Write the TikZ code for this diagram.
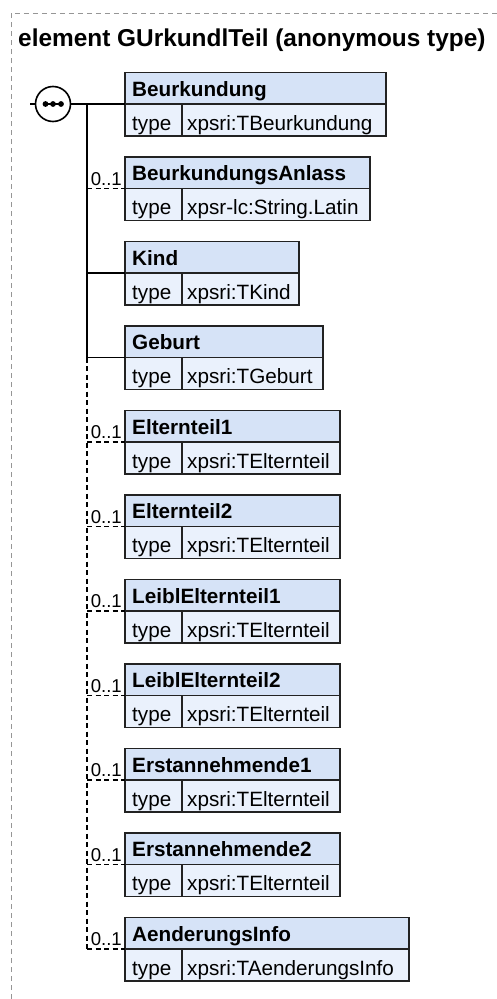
\documentclass[tikz,border=0pt]{standalone}
\usepackage{fontspec}
\setmainfont{Liberation Sans}
\definecolor{hdrfill}{RGB}{214,227,247}
\definecolor{cellfill}{RGB}{234,241,252}
\definecolor{boxline}{RGB}{34,34,34}
\definecolor{framegray}{RGB}{150,150,150}
\tikzset{
 hdr/.style={draw=boxline, fill=hdrfill, line width=1.5pt, minimum height=31.5pt, anchor=south west, inner sep=0pt, outer sep=0pt},
 cell/.style={draw=boxline, fill=cellfill, line width=1.5pt, minimum height=32pt, anchor=north west, inner sep=0pt, outer sep=0pt},
 hdrtxt/.style={anchor=base west, font=\bfseries\fontsize{20.7}{24}\selectfont, inner sep=0pt},
 celltxt/.style={anchor=base west, font=\fontsize{20.7}{24}\selectfont, inner sep=0pt},
 cardtxt/.style={anchor=base east, font=\fontsize{18.6}{22}\selectfont, inner sep=0pt},
 req/.style={line width=1.6pt, draw=black},
 optl/.style={line width=1.6pt, draw=black, dash pattern=on 5pt off 3.5pt},
 framel/.style={line width=0.9pt, draw=framegray, dash pattern=on 5pt off 4pt},
}
% id, y, header width, name, type, value width
\newcommand\mkelem[6]{%
  \node[hdr, minimum width=#3pt] (h#1) at (125,#2) {};
  \node[hdrtxt] (n#1) at ([xshift=7pt,yshift=8pt]h#1.south west) {#4};
  \node[cell, minimum width=57pt] (k#1) at (h#1.south west) {};
  \node[cell, minimum width=#6pt] (v#1) at (k#1.north east) {};
  \node[celltxt] (kt#1) at ([xshift=7pt,yshift=-26pt]h#1.south west) {type};
  \node[celltxt] (vt#1) at ([xshift=5pt,yshift=-26pt]k#1.north east) {#5};
  \coordinate (t#1) at (87,#2);
}
\newcommand\mkcard[1]{%
  \node[cardtxt] (c#1) at ([xshift=-3pt,yshift=3.5pt]h#1.south west) {0..1};
}
\begin{document}
\begin{tikzpicture}[x=1pt,y=-1pt]
\useasboundingbox (0,0) rectangle (497,999);
% frame
\coordinate (fa) at (11,999);
\coordinate (fb) at (11,13);
\coordinate (fc) at (497,13);
\draw[framel] (fa) -- (fb) -- (fc);
% title
\node[anchor=base west, font=\bfseries\fontsize{24.4}{28}\selectfont, inner sep=0pt] (title) at (18,46) {element GUrkundlTeil (anonymous type)};
% elements
\mkelem{0}{104}{261}{Beurkundung}{xpsri:TBeurkundung}{204}
\mkelem{1}{188.5}{245}{BeurkundungsAnlass}{xpsr-lc:String.Latin}{188}
\mkelem{2}{273}{174}{Kind}{xpsri:TKind}{117}
\mkelem{3}{357.5}{198}{Geburt}{xpsri:TGeburt}{141}
\mkelem{4}{442}{215}{Elternteil1}{xpsri:TElternteil}{158}
\mkelem{5}{526.5}{215}{Elternteil2}{xpsri:TElternteil}{158}
\mkelem{6}{611}{215}{LeiblElternteil1}{xpsri:TElternteil}{158}
\mkelem{7}{695.5}{215}{LeiblElternteil2}{xpsri:TElternteil}{158}
\mkelem{8}{780}{215}{Erstannehmende1}{xpsri:TElternteil}{158}
\mkelem{9}{864.5}{215}{Erstannehmende2}{xpsri:TElternteil}{158}
\mkelem{10}{949}{284}{AenderungsInfo}{xpsri:TAenderungsInfo}{227}
% sequence compositor
\node[circle, draw=black, fill=white, line width=1.6pt, minimum size=35pt, inner sep=0pt] (seq) at (53,104) {};
\coordinate (in) at (30,104);
\draw[req] (in) -- (seq.west);
\draw[req] (seq.east) -- (h0.south west);
\coordinate (d1) at (45.5,104);
\coordinate (d3) at (61,104);
\draw[line width=1.6pt] (d1) -- (d3);
\fill (d1) circle (2.9);
\fill (seq.center) circle (2.9);
\fill (d3) circle (2.9);
% trunk
\draw[req] (t0) -- (t3);
\draw[optl] (t3) -- (t10);
% connectors
\draw[optl] (t1) -- (h1.south west);
\draw[req] (t2) -- (h2.south west);
\draw[req] (t3) -- (h3.south west);
\foreach \i in {4,...,10} {\draw[optl] (t\i) -- (h\i.south west);}
% cardinalities
\mkcard{1}
\foreach \i in {4,...,10} {\mkcard{\i}}
\end{tikzpicture}
\end{document}
